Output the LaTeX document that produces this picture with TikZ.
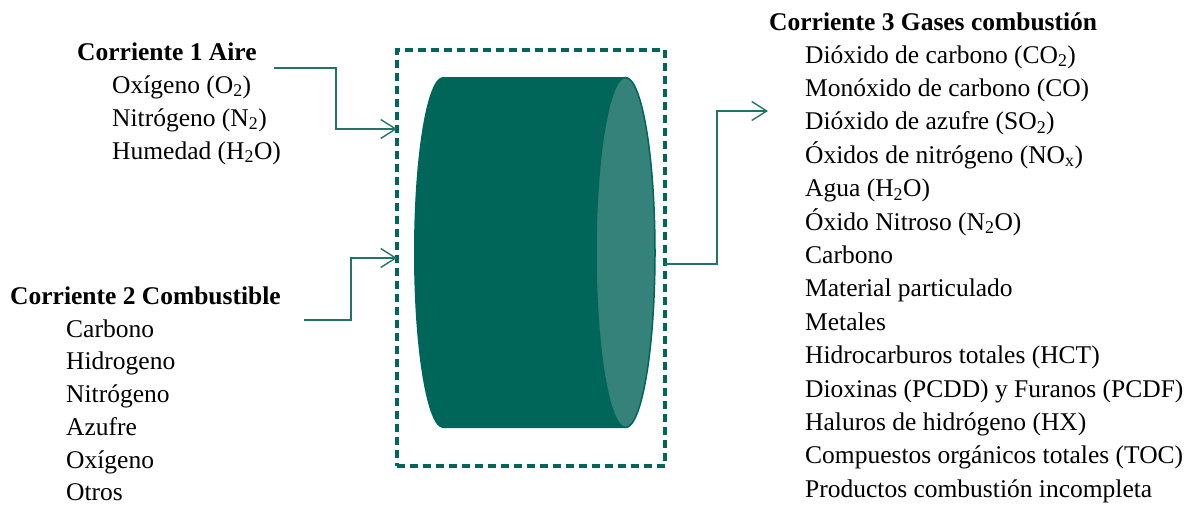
\documentclass[tikz,border=0pt]{standalone}
\usepackage{fontspec}
\setmainfont{Liberation Serif}
\usetikzlibrary{arrows.meta}
\definecolor{tealdark}{HTML}{00665A}
\definecolor{tealface}{HTML}{348279}
\definecolor{tealline}{HTML}{237468}
\tikzset{
  lbl/.style={anchor=base west, inner sep=0pt, font=\fontsize{25.5}{30}\selectfont},
  head/.style={lbl, font=\fontsize{25.5}{30}\selectfont\bfseries},
  flow/.style={draw=tealline, line width=1.4pt,
    -{Straight Barb[length=15pt,width=19pt,line width=1.4pt]}},
  outflow/.style={draw=tealline, line width=1.4pt},
  boundary/.style={draw=tealdark, line width=3.1pt, dash pattern=on 8pt off 5pt,
    minimum width=268pt, minimum height=416pt, inner sep=0pt, outer sep=0pt}
}
\begin{document}
\begin{tikzpicture}[x=1pt,y=-1pt]
\useasboundingbox (0,0) rectangle (1194,506);

% control volume around the combustion chamber
\node[boundary] (reactor) at (531,258) {};

% combustion chamber drawn as a lying cylinder
\fill[tealdark] (443,77) arc[start angle=-90, end angle=-270, x radius=29, y radius=175.5]
  -- (625,428) arc[start angle=90, end angle=-90, x radius=30, y radius=175.5] -- cycle;
\filldraw[fill=tealface, draw=tealdark, line width=1.5pt] (625.5,252.5) ellipse[x radius=29.5, y radius=175];

% stream 1: air
\node[head] (h1) at (77,60) {Corriente 1 Aire};
\node[lbl] (s1a) at (112,93) {Oxígeno (O\textsubscript{2})};
\node[lbl] (s1b) at (112,126) {Nitrógeno (N\textsubscript{2})};
\node[lbl] (s1c) at (112,159) {Humedad (H\textsubscript{2}O)};

% stream 2: fuel
\node[head] (h2) at (10,304) {Corriente 2 Combustible};
\node[lbl] (s2a) at (66,337) {Carbono};
\node[lbl] (s2b) at (66,369.8) {Hidrogeno};
\node[lbl] (s2c) at (66,402.6) {Nitrógeno};
\node[lbl] (s2d) at (66,435.4) {Azufre};
\node[lbl] (s2e) at (66,468.2) {Oxígeno};
\node[lbl] (s2f) at (66,500) {Otros};

% stream 3: flue gases
\node[head] (h3) at (769,30) {Corriente 3 Gases combustión};
\foreach \t [count=\i from 0] in {
  Dióxido de carbono (CO\textsubscript{2}),
  Monóxido de carbono (CO),
  Dióxido de azufre (SO\textsubscript{2}),
  Óxidos de nitrógeno (NO\textsubscript{x}),
  Agua (H\textsubscript{2}O),
  Óxido Nitroso (N\textsubscript{2}O),
  Carbono,
  Material particulado,
  Metales,
  Hidrocarburos totales (HCT),
  Dioxinas (PCDD) y Furanos (PCDF),
  Haluros de hidrógeno (HX),
  Compuestos orgánicos totales (TOC),
  Productos combustión incompleta}
  \node[lbl] (s3-\i) at (805,{63+33.4*\i}) {\t};

% connectors
\coordinate (in1) at (274,68);
\coordinate (in2) at (304,320);
\coordinate (out3) at (768,111);
\draw[flow] (in1) -- (336,68) |- ([yshift=129pt]reactor.west);
\draw[flow] (in2) -- (351,320) |- (reactor.west);
\draw[outflow] ([yshift=-6pt]reactor.east) -- (717,264) |- (719,111);
\draw[flow] (717,111) -- (out3);
\end{tikzpicture}
\end{document}
